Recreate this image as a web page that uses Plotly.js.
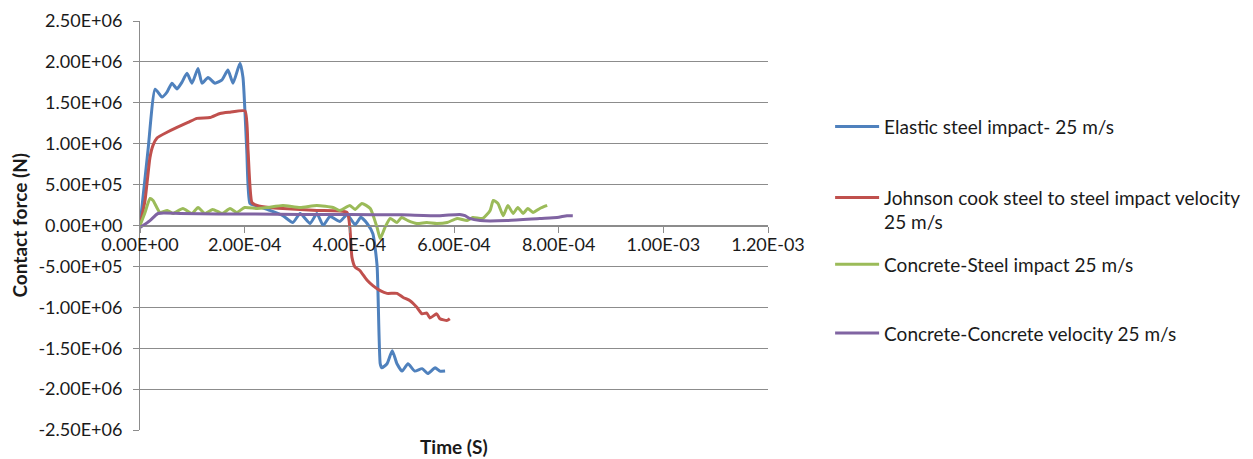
<!DOCTYPE html>
<html>
<head>
<meta charset="utf-8">
<script src="https://cdn.plot.ly/plotly-3.0.1.min.js"></script>
<style>html,body{margin:0;padding:0;background:#fff;}#chart{width:1253px;height:459px;}</style>
</head>
<body>
<div id="chart"></div>
<script>
// ---- data (time in s, contact force in N) ----
const seriesNames = [
  "Elastic steel impact- 25 m/s",
  "Johnson cook steel to steel impact velocity<br>25 m/s",
  "Concrete-Steel impact 25 m/s",
  "Concrete-Concrete velocity 25 m/s"
];
const elasticT = [0, 1.53e-5, 2.9e-5, 4.2e-5, 5.16e-5, 6.1e-5, 7.07e-5, 8.0e-5, 8.98e-5, 9.94e-5, 1.108e-4, 1.185e-4, 1.3e-4, 1.433e-4, 1.567e-4, 1.68e-4, 1.777e-4, 1.91e-4, 1.968e-4, 2.04e-4, 2.1e-4, 2.2e-4, 2.48e-4, 2.73e-4, 2.92e-4, 3.06e-4, 3.25e-4, 3.38e-4, 3.5e-4, 3.63e-4, 3.82e-4, 3.96e-4, 4.11e-4, 4.22e-4, 4.34e-4, 4.45e-4, 4.53e-4, 4.59e-4, 4.62e-4, 4.72e-4, 4.82e-4, 4.91e-4, 5.01e-4, 5.12e-4, 5.25e-4, 5.39e-4, 5.5e-4, 5.64e-4, 5.73e-4, 5.83e-4];
const elasticF = [0, 9.2e5, 1.667e6, 1.57e6, 1.63e6, 1.74e6, 1.67e6, 1.75e6, 1.86e6, 1.74e6, 1.92e6, 1.74e6, 1.81e6, 1.74e6, 1.78e6, 1.90e6, 1.74e6, 1.985e6, 1.81e6, 9.2e5, 2.7e5, 2.45e5, 1.84e5, 1.2e5, 3.7e4, 1.47e5, 2.5e4, 1.47e5, 0, 1.1e5, 5e4, 1.35e5, 1e4, 1.0e5, 2.5e4, -1e5, -4.9e5, -1.69e6, -1.74e6, -1.69e6, -1.53e6, -1.69e6, -1.78e6, -1.69e6, -1.78e6, -1.75e6, -1.81e6, -1.74e6, -1.78e6, -1.78e6];

const jcT = [0, 9.6e-6, 1.9e-5, 2.48e-5, 3.25e-5, 5.16e-5, 7.07e-5, 9.17e-5, 1.089e-4, 1.338e-4, 1.529e-4, 1.72e-4, 2.006e-4, 2.064e-4, 2.14e-4, 2.236e-4, 2.48e-4, 2.73e-4, 3.38e-4, 3.955e-4, 4.01e-4, 4.05e-4, 4.11e-4, 4.2e-4, 4.34e-4, 4.45e-4, 4.59e-4, 4.72e-4, 4.91e-4, 5.03e-4, 5.16e-4, 5.29e-4, 5.39e-4, 5.48e-4, 5.54e-4, 5.67e-4, 5.73e-4, 5.87e-4, 5.92e-4];
const jcF = [0, 3.06e5, 8.3e5, 9.8e5, 1.07e6, 1.14e6, 1.2e6, 1.26e6, 1.31e6, 1.32e6, 1.37e6, 1.385e6, 1.40e6, 9.2e5, 2.8e5, 2.45e5, 2.2e5, 2.08e5, 1.84e5, 1.6e5, -2.5e4, -3.9e5, -5.1e5, -5.5e5, -6.7e5, -7.35e5, -7.97e5, -8.3e5, -8.3e5, -8.8e5, -9.2e5, -1.0e6, -1.08e6, -1.07e6, -1.13e6, -1.08e6, -1.14e6, -1.16e6, -1.14e6];

const csT = [0, 9.6e-6, 1.9e-5, 2.5e-5, 3.8e-5, 5.2e-5, 6.3e-5, 8.2e-5, 9.9e-5, 1.11e-4, 1.24e-4, 1.39e-4, 1.57e-4, 1.72e-4, 1.85e-4, 2.0e-4, 2.24e-4, 2.43e-4, 2.73e-4, 3.06e-4, 3.38e-4, 3.69e-4, 3.82e-4, 4.01e-4, 4.11e-4, 4.24e-4, 4.4e-4, 4.53e-4, 4.59e-4, 4.68e-4, 4.78e-4, 4.91e-4, 5.0e-4, 5.12e-4, 5.29e-4, 5.48e-4, 5.67e-4, 5.87e-4, 6.06e-4, 6.25e-4, 6.36e-4, 6.55e-4, 6.69e-4, 6.75e-4, 6.84e-4, 6.94e-4, 7.03e-4, 7.13e-4, 7.22e-4, 7.32e-4, 7.41e-4, 7.51e-4, 7.64e-4, 7.78e-4];
const csF = [0, 1.6e5, 3.3e5, 3.06e5, 1.6e5, 1.84e5, 1.47e5, 2.08e5, 1.47e5, 2.2e5, 1.47e5, 1.96e5, 1.47e5, 2.08e5, 1.6e5, 2.2e5, 2.08e5, 2.2e5, 2.45e5, 2.2e5, 2.45e5, 2.2e5, 1.84e5, 2.45e5, 1.96e5, 2.7e5, 2.08e5, -2.5e4, -1.6e5, -2.5e4, 8.6e4, 3.7e4, 9.8e4, 6e4, 2.5e4, 3.7e4, 2.5e4, 3.7e4, 8.6e4, 6e4, 9.8e4, 8.6e4, 1.84e5, 3.06e5, 2.7e5, 1.2e5, 2.45e5, 1.47e5, 2.2e5, 1.47e5, 2.08e5, 1.6e5, 2.08e5, 2.45e5];

const ccT = [0, 1.9e-5, 3.44e-5, 7.6e-5, 1.5e-4, 2.2e-4, 3.06e-4, 4.0e-4, 5.0e-4, 5.73e-4, 6.11e-4, 6.21e-4, 6.3e-4, 6.5e-4, 7.01e-4, 7.64e-4, 7.97e-4, 8.16e-4, 8.27e-4];
const ccF = [-2.5e4, 6e4, 1.47e5, 1.47e5, 1.42e5, 1.4e5, 1.35e5, 1.35e5, 1.3e5, 1.2e5, 1.35e5, 1.2e5, 8.6e4, 6e4, 6e4, 8.6e4, 9.8e4, 1.2e5, 1.2e5];

const xTickVals = [0, 2e-4, 4e-4, 6e-4, 8e-4, 1e-3, 1.2e-3];
const xTickText = ["0.00E+00", "2.00E-04", "4.00E-04", "6.00E-04", "8.00E-04", "1.00E-03", "1.20E-03"];
const yTickVals = [2.5e6, 2e6, 1.5e6, 1e6, 5e5, 0, -5e5, -1e6, -1.5e6, -2e6, -2.5e6];
const yTickText = ["2.50E+06", "2.00E+06", "1.50E+06", "1.00E+06", "5.00E+05", "0.00E+00", "-5.00E+05", "-1.00E+06", "-1.50E+06", "-2.00E+06", "-2.50E+06"];
const xTitle = "Time (S)";
const yTitle = "Contact force (N)";

const colors = ["#4F81BD", "#C0504D", "#9BBB59", "#8064A2"];
const FONT = "Lato, 'Open Sans', sans-serif";
const TXT = "#1a1a1a";
const GRID = "#8c8c8c";

const xs = [elasticT, jcT, csT, ccT];
const ys = [elasticF, jcF, csF, ccF];
const legendIds = ["legend", "legend2", "legend3", "legend4"];

const traces = xs.map((x, i) => ({
  x: x, y: ys[i], type: "scatter", mode: "lines", name: seriesNames[i],
  legend: legendIds[i],
  line: {color: colors[i], width: 3, shape: "spline", smoothing: 0.5},
  hoverinfo: "skip"
}));

function leg(y) {
  return {x: 0.6625, xref: "container", xanchor: "left", y: y, yanchor: "middle",
          bgcolor: "rgba(0,0,0,0)", borderwidth: 0, itemwidth: 44, valign: "top",
          font: {family: FONT, size: 19, color: TXT}};
}

const layout = {
  width: 1253, height: 459,
  margin: {l: 140, r: 485, t: 21, b: 29},
  paper_bgcolor: "#fff", plot_bgcolor: "#fff",
  font: {family: FONT, size: 18, color: TXT},
  showlegend: true,
  legend: leg(0.7415), legend2: leg(0.5378), legend3: leg(0.4049), legend4: leg(0.2366),
  xaxis: {
    range: [0, 1.2e-3], tickvals: xTickVals, ticktext: xTickText,
    anchor: "free", position: 0.5,
    showgrid: false, zeroline: false, showline: true, linecolor: GRID, linewidth: 1,
    ticks: "outside", ticklen: 6, tickcolor: GRID, tickwidth: 1, ticklabelstandoff: -3,
    tickfont: {family: FONT, size: 18, color: TXT}, fixedrange: true
  },
  yaxis: {
    range: [-2.5e6, 2.5e6], tickvals: yTickVals, ticktext: yTickText,
    showgrid: true, gridcolor: GRID, gridwidth: 1, zeroline: false,
    showline: true, linecolor: GRID, linewidth: 1,
    ticks: "outside", ticklen: 6, tickcolor: GRID, tickwidth: 1, ticklabelstandoff: 7,
    tickfont: {family: FONT, size: 18, color: TXT}, fixedrange: true
  },
  annotations: [
    {text: "<b>" + xTitle + "</b>", xref: "paper", yref: "paper", x: 0.5, y: 0,
     xanchor: "center", yanchor: "top", yshift: -3, showarrow: false,
     font: {family: FONT, size: 19, color: TXT}},
    {text: "<b>" + yTitle + "</b>", xref: "paper", yref: "paper", x: 0, y: 0.5,
     xanchor: "center", yanchor: "middle", xshift: -121, textangle: -90, showarrow: false,
     font: {family: FONT, size: 19, color: TXT}}
  ]
};

Plotly.newPlot("chart", traces, layout, {staticPlot: true, displayModeBar: false});
</script>
</body>
</html>
